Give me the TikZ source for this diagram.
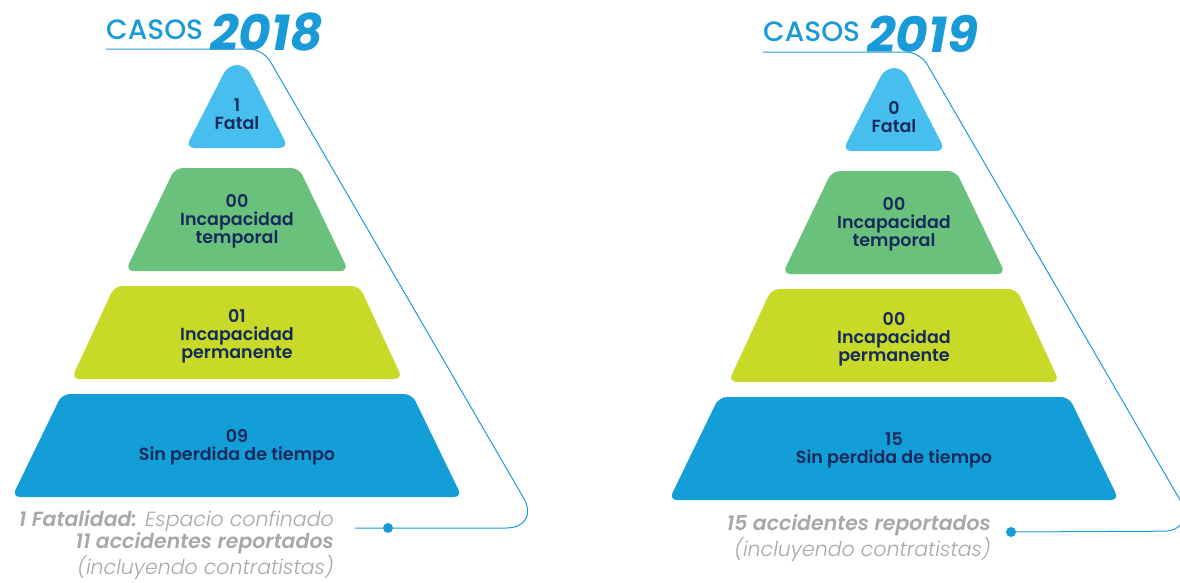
\documentclass[tikz,border=0pt]{standalone}
\usepackage{fontspec}
\setmainfont{Poppins}
\IfFontExistsTF{Poppins Light}{\newfontfamily\lightfont{Poppins Light}}{\newfontfamily\lightfont{Poppins}}
\IfFontExistsTF{Poppins SemiBold}{\newfontfamily\semifont{Poppins SemiBold}}{\newfontfamily\semifont{Poppins}[UprightFont=*-Bold]}
\IfFontExistsTF{Poppins Medium}{\newfontfamily\medfont{Poppins Medium}}{\newfontfamily\medfont{Poppins}}
\usetikzlibrary{positioning}

\definecolor{triblue}{HTML}{47BFEE}
\definecolor{tiergreen}{HTML}{6AC17C}
\definecolor{tierlime}{HTML}{C8D928}
\definecolor{tierblue}{HTML}{149ED8}
\definecolor{navy}{HTML}{172A5C}
\definecolor{notegray}{HTML}{A6A8AB}
\definecolor{lineblue}{HTML}{1A9AD7}

\begin{document}
\begin{tikzpicture}
  [x=1pt,y=-1pt,
   lbl/.style={align=center,text=navy,font=\semifont\fontsize{17.5}{18}\selectfont,inner sep=0pt},
   note/.style={align=right,text=notegray,anchor=base east,inner sep=0pt,
     font=\lightfont\itshape\fontsize{20.5}{19}\selectfont},
   casos/.style={anchor=base west,inner sep=0pt,text=lineblue,font=\medfont\fontsize{28}{28}\selectfont},
   year/.style={anchor=base west,inner sep=0pt,text=lineblue,font=\bfseries\itshape\fontsize{50}{50}\selectfont},
   frame/.style={draw=lineblue,line width=1pt},
   dot/.style={circle,fill=lineblue,inner sep=0pt,minimum size=10pt}]

  \useasboundingbox (0,0) rectangle (1180,582);
  \clip (0,0) rectangle (1180,582);

  % both pyramids, the second one shifted
  \foreach \dx/\dy in {0/0,657/3}{
    \begin{scope}[shift={(\dx,\dy)}]
      \fill[triblue,rounded corners=9pt] (228,65) -- (246,65) -- (288.5,148) -- (185.5,148) -- cycle;
      \fill[tiergreen,rounded corners=8pt] (175,168) -- (299,168) -- (348.5,271) -- (125.5,271) -- cycle;
      \fill[tierlime,rounded corners=8pt] (114.5,286) -- (359.5,286) -- (402.5,379) -- (71.5,379) -- cycle;
      \fill[tierblue,rounded corners=8pt] (62,394) -- (412,394) -- (462,497) -- (12,497) -- cycle;
    \end{scope}
  }

  % 2018
  \node[casos] (casosA) at (106,39) {CASOS};
  \node[year] (yearA) at (210,50) {2018};
  \node[lbl] (fatalA) at (237,114) {1\\Fatal};
  \node[lbl] (tempA) at (237,221) {00\\Incapacidad\\temporal};
  \node[lbl] (permA) at (237,336) {01\\Incapacidad\\permanente};
  \node[lbl] (sinA) at (237,447) {09\\Sin perdida de tiempo};
  \node[note] (noteA) at (334,574)
    {{\bfseries 1 Fatalidad:} Espacio confinado\\{\bfseries 11 accidentes reportados}\\(incluyendo contratistas)};
  \node[dot] (dotA) at (388,528) {};
  \coordinate (startA) at (106,49);
  \coordinate (midA) at (400,285);
  \coordinate (endA) at (355,528);
  \draw[frame,rounded corners=14pt] (startA) -- (263,49) -- (midA);
  \draw[frame,rounded corners=35pt] (midA) -- (541,528) -- (endA);

  % 2019
  \node[casos] (casosB) at (763,41) {CASOS};
  \node[year] (yearB) at (867,52) {2019};
  \node[lbl] (fatalB) at (894,117) {0\\Fatal};
  \node[lbl] (tempB) at (894,224) {00\\Incapacidad\\temporal};
  \node[lbl] (permB) at (894,339) {00\\Incapacidad\\permanente};
  \node[lbl] (sinB) at (894,450) {15\\Sin perdida de tiempo};
  \node[note] (noteB) at (991,556)
    {{\bfseries 15 accidentes reportados}\\(incluyendo contratistas)};
  \node[dot] (dotB) at (1011,532) {};
  \coordinate (startB) at (763,52);
  \coordinate (midB) at (1057,288);
  \draw[frame,rounded corners=14pt] (startB) -- (920,52) -- (midB);
  \draw[frame,rounded corners=35pt] (midB) -- (1198,531) -- (dotB.center);

\end{tikzpicture}
\end{document}
